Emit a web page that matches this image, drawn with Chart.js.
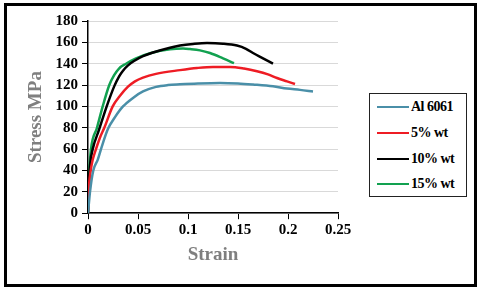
<!DOCTYPE html>
<html>
<head>
<meta charset="utf-8">
<script src="https://cdn.jsdelivr.net/npm/chart.js@4"></script>
<style>
  html, body { margin: 0; padding: 0; background: #fff; }
  #wrap { position: relative; width: 481px; height: 290px; }
  #frame { position: absolute; left: 4px; top: 3px; width: 467px; height: 278px; border: 3px solid #000; pointer-events: none; }
  #legend { position: absolute; left: 369px; top: 93px; width: 96px; height: 102px; border: 1.5px solid #222; background: #fff;
            font-family: "Liberation Serif", "Times New Roman", serif; font-weight: bold; font-size: 14px; color: #000; }
  .row { position: absolute; left: 7px; height: 16px; display: flex; align-items: center; }
  .sw { width: 32px; height: 2.5px; margin-right: 2px; }
  .lbl { letter-spacing: -0.5px; }
</style>
</head>
<body>
<div id="wrap">
  <canvas id="c" width="481" height="290"></canvas>
  <div id="frame"></div>
  <div id="legend"></div>
</div>
<script>
// ---- data ----
const seriesNames = ["Al 6061", "5% wt", "10% wt", "15% wt"];
const seriesColors = ["#4a8fa8", "#ee1c24", "#000000", "#12a150"];

const alStrain  = [0, 0.002, 0.0053, 0.0097, 0.013, 0.020, 0.027, 0.035, 0.045, 0.055, 0.068, 0.080, 0.092, 0.110, 0.132, 0.150, 0.165, 0.185, 0.199, 0.212, 0.225];
const alStress  = [0, 20, 40, 50, 60, 79, 90, 100, 108, 114, 118.3, 120, 120.7, 121.5, 122, 121.5, 120.5, 118.8, 116.7, 115.5, 114];

const w5Strain  = [0, 0.001, 0.0027, 0.0047, 0.008, 0.0125, 0.0163, 0.0247, 0.032, 0.040, 0.047, 0.055, 0.068, 0.092, 0.109, 0.125, 0.142, 0.156, 0.169, 0.180, 0.189, 0.199, 0.207];
const w5Stress  = [0, 25, 40, 50, 60, 72, 80, 100, 110, 118.5, 123.5, 127, 130.5, 134, 136, 137, 137, 135.5, 133, 130, 126.6, 123.5, 121];

const w10Strain = [0, 0.001, 0.002, 0.0047, 0.011, 0.0187, 0.0263, 0.031, 0.035, 0.040, 0.046, 0.055, 0.065, 0.082, 0.092, 0.105, 0.119, 0.135, 0.149, 0.158, 0.165, 0.175, 0.185];
const w10Stress = [0, 30, 45, 60, 78, 100, 119, 128, 133.5, 138.5, 142.5, 147, 150.5, 155, 157, 158.5, 159.4, 158.8, 157, 154, 150, 145, 140];

const w15Strain = [0, 0.001, 0.003, 0.009, 0.0147, 0.0213, 0.026, 0.031, 0.038, 0.048, 0.063, 0.082, 0.095, 0.102, 0.112, 0.122, 0.135, 0.146];
const w15Stress = [0, 35, 60, 80, 100, 120, 129, 135.5, 140, 145, 150, 153.5, 154.2, 153.7, 152.5, 150, 145, 140.5];

const xTicks = [0, 0.05, 0.1, 0.15, 0.2, 0.25];
const xTickLabels = ["0", "0.05", "0.1", "0.15", "0.2", "0.25"];
const yTicks = [0, 20, 40, 60, 80, 100, 120, 140, 160, 180];

const strains = [alStrain, w5Strain, w10Strain, w15Strain];
const stresses = [alStress, w5Stress, w10Stress, w15Stress];

function pts(xs, ys) { return xs.map((x, i) => ({ x: x, y: ys[i] })); }

const datasets = seriesNames.map((n, i) => ({
  label: n,
  data: pts(strains[i], stresses[i]),
  borderColor: seriesColors[i],
  backgroundColor: seriesColors[i],
  borderWidth: 2.5,
  pointRadius: 0,
  showLine: true,
  cubicInterpolationMode: 'monotone',
  fill: false
}));

const tickFont = { family: "Liberation Serif", weight: 'bold', size: 15 };
const titleFont = { family: "Liberation Serif", weight: 'bold', size: 19 };

new Chart(document.getElementById('c'), {
  type: 'scatter',
  data: { datasets: datasets },
  options: {
    responsive: false,
    animation: false,
    devicePixelRatio: 1,
    layout: { padding: { left: 25, right: 143, top: 21, bottom: 24 } },
    plugins: { legend: { display: false }, tooltip: { enabled: false } },
    scales: {
      x: {
        type: 'linear', min: 0, max: 0.25,
        afterBuildTicks: s => { s.ticks = xTicks.map(v => ({ value: v })); },
        ticks: { color: '#000', font: tickFont, padding: 2, maxRotation: 0,
                 callback: (v) => { const i = xTicks.findIndex(t => Math.abs(t - v) < 1e-9); return i >= 0 ? xTickLabels[i] : ''; } },
        grid: { drawOnChartArea: false, tickLength: 6, tickColor: '#000', color: '#000' },
        border: { color: '#000', width: 1.5 },
        title: { display: true, text: 'Strain', color: '#7f7f7f', font: titleFont, padding: { top: 2, bottom: 0 } }
      },
      y: {
        type: 'linear', min: 0, max: 180,
        afterBuildTicks: s => { s.ticks = yTicks.map(v => ({ value: v })); },
        afterFit: s => { s.width = 63; },
        ticks: { color: '#000', font: tickFont, padding: 4 },
        grid: { color: '#d9d9d9', tickLength: 6, tickColor: '#000', lineWidth: 1 },
        border: { color: '#000', width: 1.5 },
        title: { display: true, text: 'Stress MPa', color: '#7f7f7f', font: titleFont, padding: { top: 0, bottom: 2 } }
      }
    }
  }
});

// HTML legend
const leg = document.getElementById('legend');
const rowTops = [5, 31, 57, 82];
seriesNames.forEach((n, i) => {
  const r = document.createElement('div');
  r.className = 'row';
  r.style.top = rowTops[i] + 'px';
  r.innerHTML = '<div class="sw" style="background:' + seriesColors[i] + '"></div><span class="lbl">' + n + '</span>';
  leg.appendChild(r);
});
</script>
</body>
</html>
